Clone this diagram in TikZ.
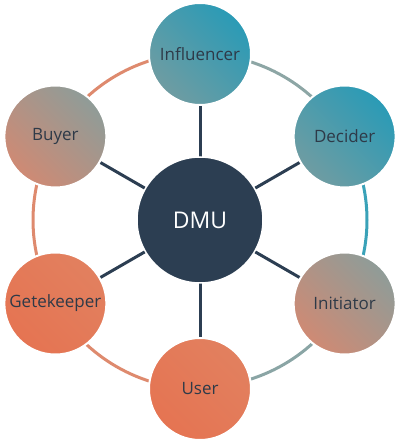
\documentclass[tikz,border=0pt]{standalone}
\usepackage{fontspec}
\setmainfont{Open Sans}
\usepackage{tikz}
\usetikzlibrary{backgrounds}
\usepackage{xcolor}
\definecolor{navy}{HTML}{2C3E52}
\definecolor{inktext}{HTML}{2E3A48}
\definecolor{tealhi}{HTML}{2A9BB6}
\definecolor{teallo}{HTML}{6F9CA2}
\definecolor{greyhi}{HTML}{8F9C98}
\definecolor{salmonlo}{HTML}{CF8A74}
\definecolor{coralhi}{HTML}{E2805F}
\definecolor{corallo}{HTML}{E57452}
\definecolor{ringteal}{HTML}{3AA2B8}
\definecolor{ringgrey}{HTML}{8DA6A5}
\definecolor{ringsalmon}{HTML}{DE8A6E}

\begin{document}
\begin{tikzpicture}[
      x=1pt, y=1pt,
      hub/.style={
        circle, fill=navy, draw=white, line width=1.5pt,
        minimum size=126pt, inner sep=0pt, text=white, font=\fontsize{23}{25}\selectfont
      },
      role/.style 2 args={
        circle, draw=white, line width=2pt, minimum size=102pt, inner sep=0pt,
        text=inktext, font=\fontsize{17}{19}\selectfont,
        top color=#1, bottom color=#2, shading angle=-45
      },
      spoke/.style={line width=3pt, draw=navy},
      ring/.style={line width=3pt}
    ]
    \useasboundingbox (-200,-223) rectangle (200,220);
    \node[hub] (dmu) at (0,0) {DMU};

    \node[role={tealhi}{teallo}] (influencer) at (90:166) {Influencer};
    \node[role={tealhi}{teallo}] (decider) at (30:167) {Decider};
    \node[role={greyhi}{salmonlo}] (initiator) at (-30:167) {Initiator};
    \node[role={coralhi}{corallo}] (user) at (-90:169) {User};
    \node[role={coralhi}{corallo}] (gatekeeper) at (210:167) {Getekeeper};
    \node[role={greyhi}{salmonlo}] (buyer) at (150:167) {Buyer};

    \begin{scope}[on background layer]
      \draw[ring, draw=ringgrey] (influencer.center) arc[start angle=90, end angle=30, radius=167];
      \draw[ring, draw=ringteal] (decider.center) arc[start angle=30, end angle=-30, radius=167];
      \draw[ring, draw=ringgrey!90!teallo] (initiator.center) arc[start angle=-30, end angle=-90, radius=167];
      \draw[ring, draw=ringsalmon] (user.center) arc[start angle=-90, end angle=-150, radius=167];
      \draw[ring, draw=ringsalmon] (gatekeeper.center) arc[start angle=210, end angle=150, radius=167];
      \draw[ring, draw=ringsalmon] (buyer.center) arc[start angle=150, end angle=90, radius=167];

      \draw[spoke] (dmu.center) -- (influencer.center);
      \draw[spoke] (dmu.center) -- (decider.center);
      \draw[spoke] (dmu.center) -- (initiator.center);
      \draw[spoke] (dmu.center) -- (user.center);
      \draw[spoke] (dmu.center) -- (gatekeeper.center);
      \draw[spoke] (dmu.center) -- (buyer.center);
    \end{scope}
  \end{tikzpicture}
\end{document}
